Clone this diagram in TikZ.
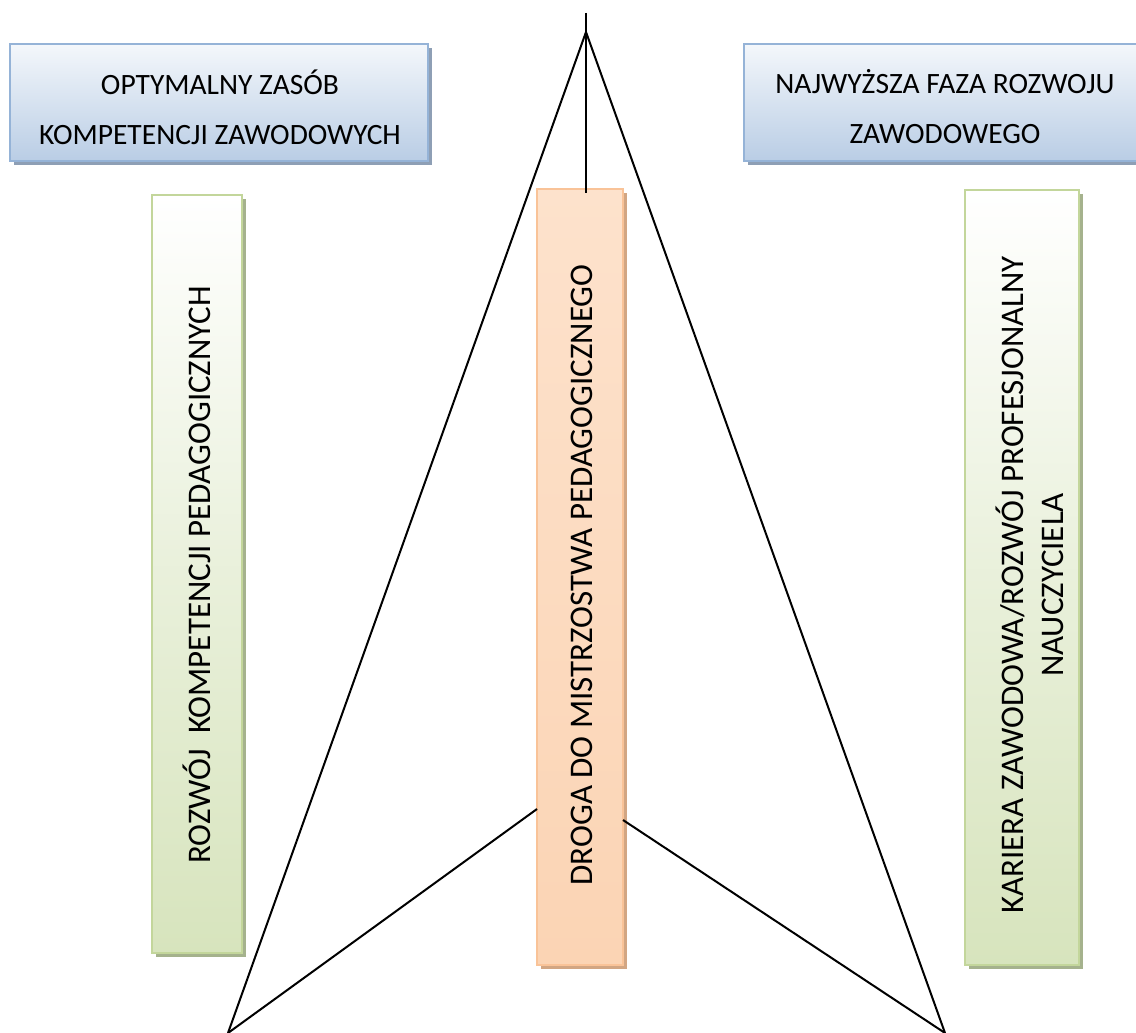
\documentclass[tikz,border=0pt]{standalone}
\usepackage{fontspec}
\setmainfont{Carlito}
\usetikzlibrary{shadows}
\definecolor{bluefill}{HTML}{B9CDE5}
\definecolor{bluetop}{HTML}{F4F7FB}
\definecolor{blueedge}{HTML}{95B3D7}
\definecolor{blueshadow}{HTML}{8E9FB5}
\definecolor{greenfill}{HTML}{D7E4BD}
\definecolor{greenedge}{HTML}{C3D69B}
\definecolor{greenshadow}{HTML}{A5B28D}
\definecolor{orangefill}{HTML}{FBD4B4}
\definecolor{orangetop}{HTML}{FDE2CC}
\definecolor{orangeedge}{HTML}{F9C398}
\definecolor{orangeshadow}{HTML}{D2A683}
\begin{document}
\begin{tikzpicture}[x=1pt,y=-1pt,
  every node/.style={inner sep=0pt, outer sep=0pt},
  txt/.style={font=\fontsize{29.5}{50}\selectfont, align=center, text=black},
  bluebox/.style={draw=blueedge, line width=2.5pt, top color=bluetop, bottom color=bluefill,
    general shadow={fill=blueshadow, shadow xshift=4pt, shadow yshift=-4pt}},
  greenbox/.style={draw=greenedge, line width=2.5pt, top color=white, bottom color=greenfill, middle color=greenfill!55!white,
    general shadow={fill=greenshadow, shadow xshift=4pt, shadow yshift=-4pt}},
  orangebox/.style={draw=orangeedge, line width=2.5pt, top color=orangetop, bottom color=orangefill,
    general shadow={fill=orangeshadow, shadow xshift=4pt, shadow yshift=-4pt}},
  vtxt/.style={font=\fontsize{33}{40}\selectfont, align=center, rotate=90, text=black},
  conn/.style={draw=black, line width=2pt}
]
\useasboundingbox (0,0) rectangle (1136,1033);
% top boxes
\node[bluebox, minimum width=418pt, minimum height=117pt] (tl) at (219,102.5) {};
\node[txt] (tltxt) at (220,107) {OPTYMALNY ZASÓB\\KOMPETENCJI ZAWODOWYCH};
\node[bluebox, minimum width=400pt, minimum height=117pt] (tr) at (944,102.5) {};
\node[txt] (trtxt) at (945,107) {NAJWYŻSZA FAZA ROZWOJU\\ZAWODOWEGO};
% vertical boxes
\node[greenbox, minimum width=90pt, minimum height=758pt] (lg) at (197,574) {};
\node[vtxt] (lgtxt) at (197,575) {ROZWÓJ\ \ KOMPETENCJI PEDAGOGICZNYCH};
\node[orangebox, minimum width=86pt, minimum height=776pt] (mid) at (580,577) {};
\node[vtxt] (midtxt) at (582,575) {DROGA DO MISTRZOSTWA PEDAGOGICZNEGO};
\node[greenbox, minimum width=114pt, minimum height=775pt] (rg) at (1022,577.5) {};
\node[vtxt] (rgtxt) at (1030,585) {KARIERA ZAWODOWA/ROZWÓJ PROFESJONALNY\\NAUCZYCIELA};
% connectors
\coordinate (top) at (586,13);
\coordinate (apex) at (586,32);
\coordinate (bl) at (228,1033);
\coordinate (br) at (945,1033);
\path[conn] (top) -- ([xshift=6pt,yshift=-4pt]mid.north);
\path[conn] (apex) -- (bl);
\path[conn] (apex) -- (br);
\path[conn] ([yshift=156pt]mid.south west) -- (bl);
\path[conn] ([yshift=145pt]mid.south east) -- (br);
\end{tikzpicture}
\end{document}
